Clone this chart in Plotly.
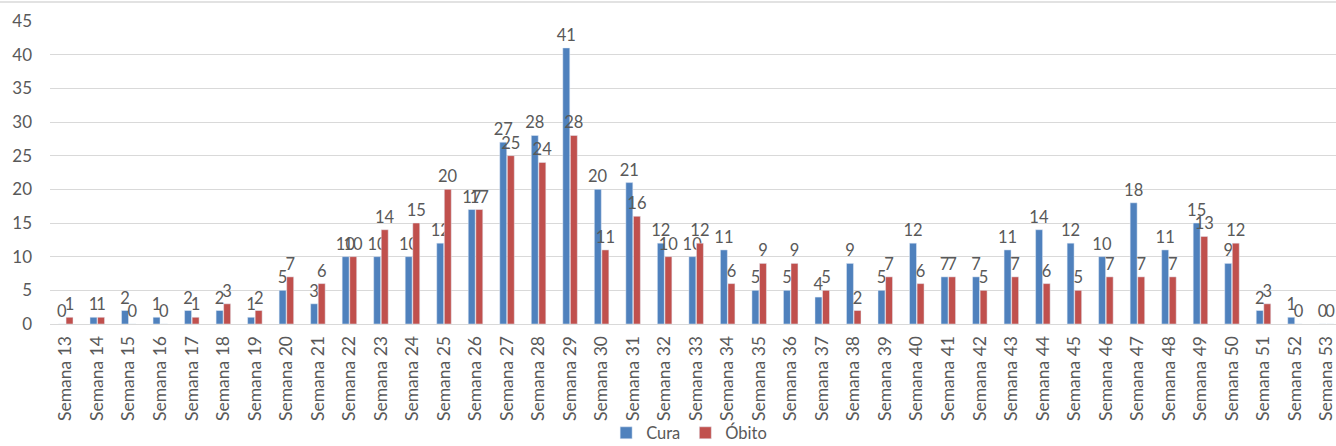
import plotly.graph_objects as go

semanas = [f"Semana {i}" for i in range(13, 54)]
cura = [0, 1, 2, 1, 2, 2, 1, 5, 3, 10, 10, 10, 12, 17, 27, 28, 41, 20, 21, 12,
        10, 11, 5, 5, 4, 9, 5, 12, 7, 7, 11, 14, 12, 10, 18, 11, 15, 9, 2, 1, 0]
obito = [1, 1, 0, 0, 1, 3, 2, 7, 6, 10, 14, 15, 20, 17, 25, 24, 28, 11, 16, 10,
         12, 6, 9, 9, 5, 2, 7, 6, 7, 5, 7, 6, 5, 7, 7, 7, 13, 12, 3, 0, 0]

FONT = "Lato"
GRAY = "#595959"

fig = go.Figure()
fig.add_trace(go.Bar(
    x=semanas, y=cura, name="Cura", marker_color="#4F81BD",
    text=cura, textposition="outside", constraintext="none", cliponaxis=False,
    textfont=dict(size=16.5, color=GRAY, family=FONT),
))
fig.add_trace(go.Bar(
    x=semanas, y=obito, name="Óbito", marker_color="#C0504D",
    text=obito, textposition="outside", constraintext="none", cliponaxis=False,
    textfont=dict(size=16.5, color=GRAY, family=FONT),
))

fig.update_layout(
    width=1336, height=446,
    margin=dict(l=50, r=0, t=21, b=122, autoexpand=False),
    paper_bgcolor="white", plot_bgcolor="white",
    barmode="group", bargap=0.52, bargroupgap=0.08,
    font=dict(family=FONT, color=GRAY),
    legend=dict(orientation="h", x=0.497, xanchor="center", y=-0.36, yanchor="middle",
                bgcolor="rgba(0,0,0,0)",
                font=dict(size=16.5, color=GRAY, family=FONT), itemwidth=30),
    xaxis=dict(tickangle=-90, tickfont=dict(size=17.5, color=GRAY, family=FONT),
               range=[-0.5, 40.3], showline=True, linecolor="#d9d9d9", linewidth=1,
               ticks="", automargin=False, ticklabelstandoff=4),
    yaxis=dict(range=[0, 45], dtick=5, showgrid=True, gridcolor="#d9d9d9",
               tickfont=dict(size=17, color=GRAY, family=FONT), zeroline=False,
               ticks="", automargin=False, ticklabelstandoff=17),
)
fig.add_shape(type="line", xref="paper", yref="paper", x0=-0.04, x1=1, y0=1.063, y1=1.063,
              line=dict(color="#d9d9d9", width=1.5))

fig.write_html("out.html", config={"displayModeBar": False},
               post_script="document.body.style.margin='0';document.body.style.overflow='hidden';")
